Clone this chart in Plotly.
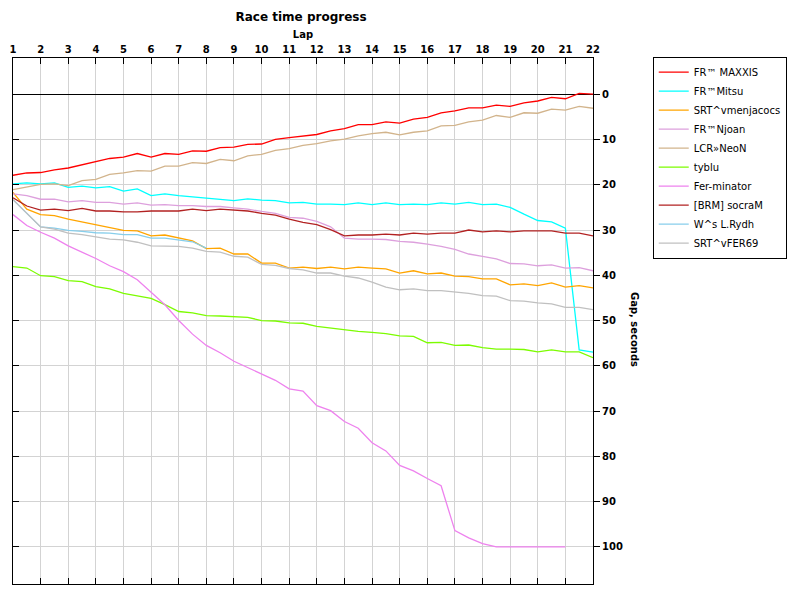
import plotly.graph_objects as go

laps = [1, 1.5, 2, 2.5, 3, 3.5, 4, 4.5, 5, 5.5, 6, 6.5, 7, 7.5, 8, 8.5, 9, 9.5, 10, 10.5,
        11, 11.5, 12, 12.5, 13, 13.5, 14, 14.5, 15, 15.5, 16, 16.5, 17, 17.5, 18, 18.5,
        19, 19.5, 20, 20.5, 21, 21.5, 22]
lap_ticks = list(range(1, 23))
gap_ticks = [0, 10, 20, 30, 40, 50, 60, 70, 80, 90, 100]

names = ["FR™ MAXXIS", "FR™Mitsu", "SRT^vmenjacocs", "FR™Njoan", "LCR»NeoN",
         "tyblu", "Fer-minator", "[BRM] socraM", "W^s L.Rydh", "SRT^vFER69"]
colors = ["#FF0000", "#00FFFF", "#FFA500", "#DDA0DD", "#D2B48C",
          "#7CFC00", "#EE82EE", "#B22222", "#87CEEB", "#C0C0C0"]

maxxis = [17.9, 17.4, 17.3, 16.7, 16.3, 15.6, 15.0, 14.2, 13.9, 13.1, 13.9, 13.1, 13.3, 12.5,
          12.6, 11.8, 11.7, 11.1, 11.0, 10.0, 9.6, 9.2, 8.9, 8.1, 7.6, 6.7, 6.7, 6.1, 6.4, 5.5,
          5.1, 4.1, 3.7, 3.0, 3.0, 2.4, 2.7, 1.9, 1.5, 0.7, 1.0, -0.2, 0.0]
mitsu = [19.8, 19.6, 19.8, 19.6, 20.6, 20.3, 20.7, 20.4, 21.4, 20.9, 22.4, 22.0, 22.4, 22.7,
         22.9, 23.3, 23.5, 23.1, 23.4, 23.5, 24.0, 23.9, 24.3, 24.3, 24.4, 24.0, 24.4, 24.0,
         24.4, 24.3, 24.4, 24.0, 24.3, 23.9, 24.4, 24.3, 25.0, 26.5, 27.9, 28.2, 29.6, 56.5, 57.0]
menjacocs = [21.7, 25.4, 26.6, 26.8, 27.6, 28.2, 28.8, 29.4, 30.1, 30.2, 31.3, 31.1, 31.8, 32.4,
             34.1, 34.0, 35.3, 35.3, 37.3, 37.3, 38.4, 38.2, 38.5, 38.2, 38.6, 38.2, 38.4, 38.6,
             39.5, 39.0, 39.7, 39.5, 40.2, 40.3, 40.8, 40.8, 42.1, 41.9, 42.3, 41.7, 42.6, 42.3, 42.8]
njoan = [22.0, 22.4, 23.2, 23.2, 23.8, 23.5, 23.9, 23.9, 24.3, 24.0, 24.5, 24.4, 24.6, 24.6,
         24.8, 24.8, 25.1, 25.4, 25.9, 26.3, 27.2, 27.4, 28.1, 29.3, 31.8, 32.0, 32.0, 32.1,
         32.5, 32.7, 33.1, 33.6, 34.3, 35.3, 35.8, 36.4, 37.4, 37.5, 37.9, 37.7, 38.4, 38.3, 39.0]
neon = [21.1, 20.5, 19.9, 19.8, 20.2, 19.1, 18.8, 17.7, 17.4, 16.9, 17.0, 15.9, 15.9, 15.1,
        15.3, 14.4, 14.7, 13.6, 13.3, 12.4, 12.0, 11.3, 10.9, 10.3, 9.9, 9.2, 8.7, 8.4, 9.0, 8.4,
        8.1, 7.0, 6.9, 6.1, 5.7, 4.7, 5.1, 4.1, 4.2, 3.3, 3.5, 2.7, 3.1]
tyblu = [38.1, 38.4, 40.1, 40.3, 41.2, 41.4, 42.5, 43.0, 44.0, 44.5, 45.1, 46.5, 48.0, 48.3,
         48.9, 49.0, 49.1, 49.3, 50.0, 50.1, 50.5, 50.6, 51.3, 51.7, 52.1, 52.4, 52.6, 52.9,
         53.4, 53.5, 54.9, 54.8, 55.5, 55.4, 56.0, 56.3, 56.3, 56.4, 56.9, 56.5, 56.9, 56.9, 58.2]
ferminator = [26.6, 29.0, 30.5, 31.8, 33.5, 34.9, 36.3, 37.9, 39.2, 41.0, 43.8, 46.5, 50.0, 53.0,
              55.5, 57.1, 59.0, 60.4, 61.9, 63.2, 65.1, 65.6, 68.8, 69.9, 72.3, 73.8, 77.0, 78.8,
              82.0, 83.2, 84.9, 86.5, 96.4, 98.0, 99.3, 100.0, 100.0, 100.0, 100.0, 100.0, 100.0,
              None, None]
socram = [22.9, 24.7, 25.6, 25.4, 25.7, 25.2, 25.8, 25.8, 26.0, 26.0, 25.8, 25.8, 25.8, 25.4,
          25.7, 25.4, 25.6, 25.8, 26.3, 26.7, 27.6, 28.3, 28.8, 29.9, 31.3, 31.1, 31.1, 30.9,
          31.1, 30.7, 30.9, 30.7, 30.7, 30.0, 30.4, 30.2, 30.4, 30.2, 30.2, 30.2, 30.7, 30.7, 31.3]
rydh = [23.3, 26.4, 29.3, 29.6, 30.1, 30.3, 30.6, 30.7, 31.0, 31.0, 31.8, 31.8, 32.2, 32.6,
        34.0, None, None, None, None, None, None, None, None, None, None, None, None, None,
        None, None, None, None, None, None, None, None, None, None, None, None, None, None, None]
fer69 = [23.3, 26.2, 29.3, 29.8, 30.7, 31.0, 31.5, 32.0, 32.2, 32.7, 33.5, 33.5, 33.6, 34.0,
         34.7, 34.9, 35.8, 36.0, 37.6, 37.8, 38.5, 38.8, 39.5, 39.5, 40.2, 40.6, 41.5, 42.6,
         43.2, 43.0, 43.4, 43.4, 43.7, 44.0, 44.5, 44.6, 45.6, 45.7, 46.1, 46.3, 47.1, 47.1, 47.6]

series = [maxxis, mitsu, menjacocs, njoan, neon, tyblu, ferminator, socram, rydh, fer69]

FONT = "DejaVu Sans, Verdana, sans-serif"
Y_RANGE = [108.2, -8]

fig = go.Figure()
for name, color, vals in zip(names, colors, series):
    fig.add_trace(go.Scatter(x=laps, y=vals, name=name, mode="lines",
                             line=dict(color=color, width=1.3), connectgaps=False))

# helper trace for the left-hand axis frame
fig.add_trace(go.Scatter(x=[laps[0]], y=[gap_ticks[0]], yaxis="y2", mode="markers",
                         marker=dict(opacity=0), showlegend=False, hoverinfo="skip"))

fig.update_layout(
    width=792, height=592,
    margin=dict(l=2, r=207, t=50, b=16),
    paper_bgcolor="white", plot_bgcolor="white",
    font=dict(family=FONT, color="black"),
    title=dict(text="Race time progress", x=0.37, xanchor="center", y=1 - 9 / 592,
               yanchor="middle", yref="container",
               font=dict(family=FONT, size=12, weight="bold", color="black")),
    xaxis=dict(range=[1, 22], side="top", tickmode="array", tickvals=lap_ticks,
               ticktext=[str(t) for t in lap_ticks], ticklabeloverflow="allow",
               ticks="inside", ticklen=6, tickcolor="black", tickwidth=1,
               showline=True, linecolor="black", linewidth=1, mirror="ticks",
               showgrid=True, gridcolor="#D3D3D3", gridwidth=1, zeroline=False,
               tickfont=dict(family=FONT, size=10, weight="bold"),
               title=dict(text="Lap", standoff=3,
                          font=dict(family=FONT, size=10, weight="bold"))),
    yaxis=dict(range=Y_RANGE, side="right", tickmode="array", tickvals=gap_ticks,
               ticks="outside", ticklen=6, tickcolor="black", tickwidth=1,
               showline=True, linecolor="black", linewidth=1,
               showgrid=True, gridcolor="#D3D3D3", gridwidth=1,
               zeroline=True, zerolinecolor="black", zerolinewidth=1,
               tickfont=dict(family=FONT, size=10, weight="bold")),
    yaxis2=dict(range=Y_RANGE, overlaying="y", side="left", tickmode="array",
                tickvals=gap_ticks, ticks="inside", ticklen=6, tickcolor="black",
                showline=True, linecolor="black", linewidth=1, showticklabels=False,
                showgrid=False, zeroline=False),
    legend=dict(x=1.103, y=1.0025, xanchor="left", yanchor="top",
                bordercolor="black", borderwidth=1, bgcolor="white",
                font=dict(family=FONT, size=10, color="black"),
                tracegroupgap=0),
    showlegend=True,
)

fig.add_annotation(text="Gap, seconds", xref="paper", yref="paper", x=1.072, y=0.4835,
                   xanchor="center", yanchor="middle",
                   showarrow=False, textangle=90,
                   font=dict(family=FONT, size=10, weight="bold", color="black"))

fig.write_html("out.html")
